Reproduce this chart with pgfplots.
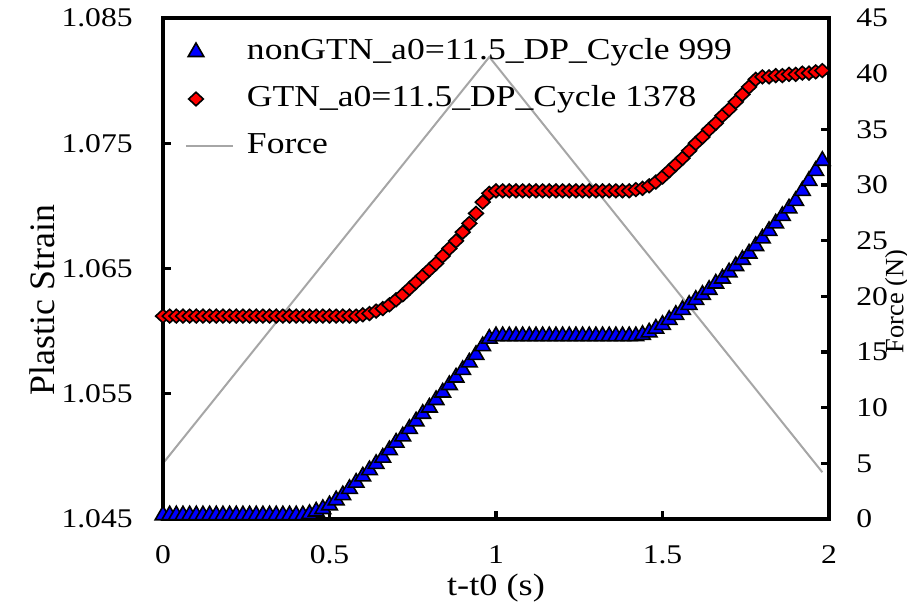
\documentclass[border=0pt]{standalone}
\usepackage{pgfplots}
\pgfplotsset{compat=1.18}
\usepackage{pgfplotstable}
\usepackage{fontspec}
\setmainfont{Liberation Serif}[FakeStretch=1.17]
\newfontfamily\plainserif{Liberation Serif}

\definecolor{forcegray}{RGB}{166,166,166}

% legend images: a single marker, and a short line
\pgfplotsset{
  markleg/.style={legend image code/.code={\draw[##1] plot coordinates {(5pt,0pt)};}},
  lineleg/.style={legend image code/.code={\draw[##1] (0pt,0pt) -- (23.5pt,0pt);}},
}

% plastic strain, nonGTN model, cycle 999
\pgfplotstableread{
t s
0.00 1.0453
0.02 1.0453
0.04 1.0453
0.06 1.0453
0.08 1.0453
0.10 1.0453
0.12 1.0453
0.14 1.0453
0.16 1.0453
0.18 1.0453
0.20 1.0453
0.22 1.0453
0.24 1.0453
0.26 1.0453
0.28 1.0453
0.30 1.0453
0.32 1.0453
0.34 1.0453
0.36 1.0453
0.38 1.0453
0.40 1.0453
0.42 1.0453
0.44 1.0454
0.46 1.0456
0.48 1.0458
0.50 1.0461
0.52 1.0465
0.54 1.0469
0.56 1.0474
0.58 1.0479
0.60 1.0484
0.62 1.0489
0.64 1.0494
0.66 1.0499
0.68 1.0505
0.70 1.0511
0.72 1.0516
0.74 1.0522
0.76 1.0528
0.78 1.0534
0.80 1.0539
0.82 1.0545
0.84 1.0551
0.86 1.0557
0.88 1.0563
0.90 1.0569
0.92 1.0575
0.94 1.0581
0.96 1.0588
0.98 1.0594
1.00 1.0596
1.02 1.0596
1.04 1.0596
1.06 1.0596
1.08 1.0596
1.10 1.0596
1.12 1.0596
1.14 1.0596
1.16 1.0596
1.18 1.0596
1.20 1.0596
1.22 1.0596
1.24 1.0596
1.26 1.0596
1.28 1.0596
1.30 1.0596
1.32 1.0596
1.34 1.0596
1.36 1.0596
1.38 1.0596
1.40 1.0596
1.42 1.0596
1.44 1.0597
1.46 1.0599
1.48 1.0602
1.50 1.0605
1.52 1.0609
1.54 1.0613
1.56 1.0617
1.58 1.0621
1.60 1.0625
1.62 1.0629
1.64 1.0633
1.66 1.0638
1.68 1.0642
1.70 1.0647
1.72 1.0652
1.74 1.0657
1.76 1.0662
1.78 1.0668
1.80 1.0674
1.82 1.0680
1.84 1.0686
1.86 1.0692
1.88 1.0698
1.90 1.0704
1.92 1.0712
1.94 1.0720
1.96 1.0728
1.98 1.0736
}\nongtn

% plastic strain, GTN model, cycle 1378
\pgfplotstableread{
t s
0.00 1.0612
0.02 1.0612
0.04 1.0612
0.06 1.0612
0.08 1.0612
0.10 1.0612
0.12 1.0612
0.14 1.0612
0.16 1.0612
0.18 1.0612
0.20 1.0612
0.22 1.0612
0.24 1.0612
0.26 1.0612
0.28 1.0612
0.30 1.0612
0.32 1.0612
0.34 1.0612
0.36 1.0612
0.38 1.0612
0.40 1.0612
0.42 1.0612
0.44 1.0612
0.46 1.0612
0.48 1.0612
0.50 1.0612
0.52 1.0612
0.54 1.0612
0.56 1.0612
0.58 1.0612
0.60 1.0613
0.62 1.0614
0.64 1.0616
0.66 1.0618
0.68 1.0621
0.70 1.0625
0.72 1.0629
0.74 1.0634
0.76 1.0639
0.78 1.0644
0.80 1.0649
0.82 1.0654
0.84 1.0660
0.86 1.0666
0.88 1.0672
0.90 1.0679
0.92 1.0686
0.94 1.0694
0.96 1.0703
0.98 1.0710
1.00 1.0712
1.02 1.0712
1.04 1.0712
1.06 1.0712
1.08 1.0712
1.10 1.0712
1.12 1.0712
1.14 1.0712
1.16 1.0712
1.18 1.0712
1.20 1.0712
1.22 1.0712
1.24 1.0712
1.26 1.0712
1.28 1.0712
1.30 1.0712
1.32 1.0712
1.34 1.0712
1.36 1.0712
1.38 1.0712
1.40 1.0712
1.42 1.0713
1.44 1.0714
1.46 1.0716
1.48 1.0719
1.50 1.0723
1.52 1.0728
1.54 1.0733
1.56 1.0738
1.58 1.0744
1.60 1.0750
1.62 1.0755
1.64 1.0761
1.66 1.0766
1.68 1.0772
1.70 1.0777
1.72 1.0783
1.74 1.0789
1.76 1.0795
1.78 1.0801
1.80 1.0803
1.82 1.0803
1.84 1.0804
1.86 1.0804
1.88 1.0805
1.90 1.0805
1.92 1.0806
1.94 1.0806
1.96 1.0807
1.98 1.0808
}\gtn

\begin{document}
\begin{tikzpicture}
\pgfplotsset{
  every axis/.append style={
    at={(0pt,0pt)}, anchor=south west,
    scale only axis, width=333pt, height=250.5pt,
    xmin=0, xmax=2,
    axis line style={line width=1.6pt},
    major tick style={line width=1.6pt, black},
    major tick length=4pt,
    tick align=inside,
    /pgf/number format/assume math mode=true,
    ticklabel style={font=\fontsize{13.5}{16}\selectfont},
  },
}
% force on the right-hand axis, drawn first so the markers sit on top
\begin{axis}[
  axis y line*=right, axis x line=none,
  ymin=0, ymax=45, ytick={0,5,...,45},
  yticklabel style={anchor=west, inner sep=0pt, xshift=13.5pt},
  ylabel={\plainserif\fontsize{13.2}{15}\selectfont Force (N)},
  ylabel style={at={(rel axis cs:1.1021,0.434)}, anchor=center},
]
\addplot[color=forcegray, line width=1pt] coordinates {(0,5) (0.98,41.5) (1.98,4.2)};
\end{axis}

% plastic strain on the left-hand axis
\begin{axis}[
  ymin=1.045, ymax=1.085,
  ytick={1.045,1.055,1.065,1.075,1.085},
  yticklabels={1.045,1.055,1.065,1.075,1.085},
  xtick={0,0.5,1,1.5,2},
  xticklabels={0,0.5,1,1.5,2},
  xtick pos=bottom, ytick pos=left,
  yticklabel style={anchor=east, inner sep=0pt, xshift=-15pt},
  xticklabel style={anchor=north, inner sep=0pt, yshift=-13pt},
  xlabel={\fontsize{15.5}{18}\selectfont t-t0 (s)},
  xlabel style={at={(rel axis cs:0.5,-0.1537)}, anchor=base},
  ylabel={\plainserif\fontsize{17.9}{21}\selectfont Plastic Strain},
  ylabel style={at={(rel axis cs:-0.181,0.437)}, anchor=center},
  legend cell align=left,
  legend style={draw=none, fill=none, inner sep=0pt, outer sep=0pt,
    at={(rel axis cs:0,1)}, anchor=north west, xshift=11pt, yshift=-9.5pt,
    font=\fontsize{15.2}{18}\selectfont,
    nodes={inner sep=0pt, text height=11pt, text depth=4pt},
    row sep=8.5pt,
    /tikz/every odd column/.append style={column sep=6.5pt}},
]
\addplot[only marks, mark=triangle*, mark size=4.5pt,
  mark options={draw=black, fill=blue, line width=0.8pt}, markleg]
  table[x=t, y=s] {\nongtn};
\addlegendentry{nonGTN\_a0=11.5\_DP\_Cycle 999}
\addplot[only marks, mark=diamond*, mark size=3.4pt,
  mark options={draw=black, fill=red, line width=0.8pt, xscale=1.44}, markleg]
  table[x=t, y=s] {\gtn};
\addlegendentry{GTN\_a0=11.5\_DP\_Cycle 1378}
\addlegendimage{color=forcegray, line width=1pt, lineleg}
\addlegendentry{Force}
\end{axis}
\pgfresetboundingbox
\path[use as bounding box] (-81.5pt,-45pt) rectangle (372pt,259.5pt);
\end{tikzpicture}
\end{document}
